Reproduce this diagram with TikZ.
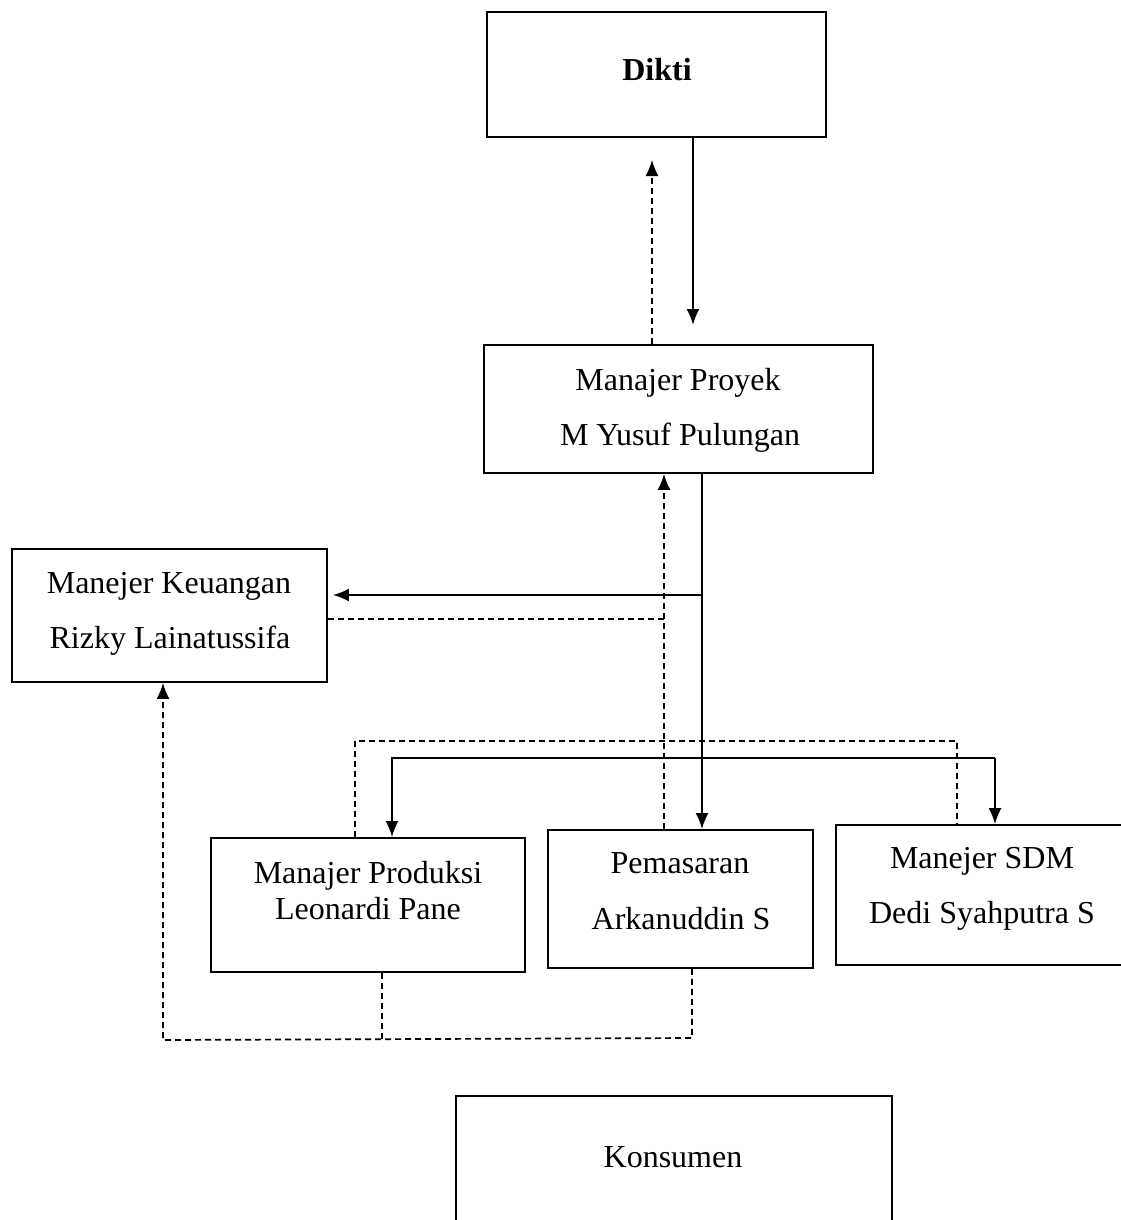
\documentclass[tikz,border=0pt]{standalone}
\usepackage{fontspec}
\setmainfont{Liberation Serif}
\usetikzlibrary{arrows.meta}
\begin{document}
\begin{tikzpicture}[x=1pt,y=-1pt,
  box/.style={draw, line width=1.8pt, inner sep=0pt},
  txt/.style={anchor=base, inner sep=0pt, font=\fontsize{32}{38}\selectfont},
  sline/.style={line width=2pt},
  dline/.style={line width=1.7pt, dash pattern=on 6pt off 4pt},
  tip/.style={-{Latex[length=16pt,width=13pt]}}
]
\useasboundingbox (0,0) rectangle (1121,1220);
% boxes
\node[box, minimum width=339pt, minimum height=125pt] (dikti) at (656.5,74.5) {};
\node[box, minimum width=389pt, minimum height=128pt] (proyek) at (678.5,409) {};
\node[box, minimum width=315pt, minimum height=133pt] (keu) at (169.5,615.5) {};
\node[box, minimum width=314pt, minimum height=134pt] (prod) at (368,905) {};
\node[box, minimum width=265pt, minimum height=138pt] (pem) at (680.5,899) {};
\node[box, minimum width=289pt, minimum height=140pt] (sdm) at (980.5,895) {};
\node[box, minimum width=436pt, minimum height=134pt] (kons) at (674,1163) {};
% texts
\node[txt, font=\fontsize{32}{38}\selectfont\bfseries] (tDikti) at (657,81) {Dikti};
\node[txt] (tPro1) at (678,390) {Manajer Proyek};
\node[txt] (tPro2) at (680,445) {M Yusuf Pulungan};
\node[txt] (tKeu1) at (169,593) {Manejer Keuangan};
\node[txt] (tKeu2) at (170,648) {Rizky Lainatussifa};
\node[txt] (tPrd1) at (368,883) {Manajer Produksi};
\node[txt] (tPrd2) at (368,919) {Leonardi Pane};
\node[txt] (tPem1) at (680,873) {Pemasaran};
\node[txt] (tPem2) at (681,929) {Arkanuddin S};
\node[txt] (tSdm1) at (982,868) {Manejer SDM};
\node[txt] (tSdm2) at (982,923) {Dedi Syahputra S};
\node[txt] (tKons) at (673,1167) {Konsumen};
% helper coordinates
\coordinate (a1) at (693,325);
\coordinate (a2) at (652,160);
\coordinate (xm) at (702,0);
\coordinate (j1) at (702,595);
\coordinate (pL) at (392,758);
\coordinate (pR) at (995,758);
\coordinate (xd) at (664,0);
\coordinate (d1) at (664,619);
\coordinate (lpL) at (355,741);
\coordinate (lpR) at (957,741);
\coordinate (bA) at (382,1040);
\coordinate (bB) at (692,1038);
\coordinate (bC) at (163,1040);
% solid connectors
\draw[sline, tip] (a1 |- dikti.south) -- (a1);
\draw[sline, tip] (xm |- proyek.south) -- (xm |- pem.north);
\draw[sline, tip, shorten >=5pt] (j1) -- (j1 -| keu.east);
\draw[sline, tip] (pR) -- (pL) -- (pL |- prod.north);
\draw[sline, tip] (pR) -- (pR |- sdm.north);
% dashed connectors
\draw[dline, tip] (a2 |- proyek.north) -- (a2);
\draw[dline, tip] (xd |- pem.north) -- (xd |- proyek.south);
\draw[dline] (d1) -- (d1 -| keu.east);
\draw[dline] (lpL |- prod.north) -- (lpL) -- (lpR) -- (lpR |- sdm.north);
\draw[dline] (bA |- prod.south) -- (bA);
\draw[dline, tip] (bB |- pem.south) -- (bB) -- (bC) -- (bC |- keu.south);
\end{tikzpicture}
\end{document}
